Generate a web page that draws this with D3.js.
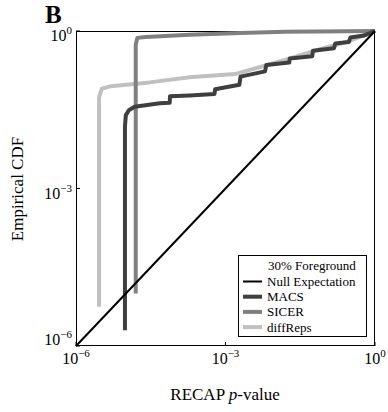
<!DOCTYPE html>
<html><head><meta charset="utf-8">
<script src="https://cdn.jsdelivr.net/npm/d3@7"></script>
<style>body{margin:0;background:#fff}svg{display:block}</style>
</head><body><svg id="c" width="388" height="412" font-family="'Liberation Serif', 'DejaVu Serif', serif"></svg>
<script>
const tickValues = [1e-6, 1e-3, 1];
const tickExponents = ["−6", "−3", "0"];
const seriesNames = ["Null Expectation", "MACS", "SICER", "diffReps"];
const legendTitle = "30% Foreground";
const nullX = [1e-6, 1];
const nullY = [1e-6, 1];
const macsX = [9.6e-6, 9.6e-6, 1.0e-5, 1.15e-5, 1.5e-5, 4.8e-5, 7.6e-5, 7.7e-5, 1.9e-4, 6.0e-4, 6.2e-4, 1.9e-3, 2.0e-3, 6.2e-3, 6.6e-3, 0.019, 0.0195, 0.055, 0.057, 0.15, 0.16, 0.3, 0.32, 0.6, 1];
const macsY = [2.0e-6, 0.015, 0.025, 0.031, 0.036, 0.042, 0.043, 0.057, 0.059, 0.063, 0.078, 0.095, 0.135, 0.17, 0.225, 0.25, 0.30, 0.33, 0.42, 0.47, 0.58, 0.62, 0.75, 0.82, 1];
const sicerX = [1.58e-5, 1.58e-5, 1.7e-5, 2.5e-5, 1.9e-4, 2e-3, 0.0155, 0.3, 1];
const sicerY = [1.0e-5, 0.55, 0.74, 0.77, 0.85, 0.92, 0.97, 0.99, 1];
const diffX = [2.9e-6, 2.9e-6, 3.3e-6, 5e-6, 3e-5, 1.9e-4, 1.55e-3, 0.0155, 0.079, 0.31, 1];
const diffY = [5.6e-6, 0.055, 0.08, 0.089, 0.105, 0.131, 0.151, 0.28, 0.45, 0.645, 1];

const FONT = "'Liberation Serif', 'DejaVu Serif', serif";
const svg = d3.select("#c");
const L = 76, R = 375, T = 31, B = 346;
const x = d3.scaleLog().domain([1e-6, 1]).range([L, R]);
const y = d3.scaleLog().domain([1e-6, 1]).range([B, T]);

const series = [
  {name: seriesNames[0], xs: nullX, ys: nullY, color: "#000", w: 2},
  {name: seriesNames[1], xs: macsX, ys: macsY, color: "#3f3f3f", w: 4},
  {name: seriesNames[2], xs: sicerX, ys: sicerY, color: "#808080", w: 4},
  {name: seriesNames[3], xs: diffX, ys: diffY, color: "#c0c0c0", w: 4}
];

svg.append("rect").attr("x", L + 0.5).attr("y", T + 0.5).attr("width", R - L - 1).attr("height", B - T - 1)
  .attr("fill", "none").attr("stroke", "#000").attr("stroke-width", 1);

tickValues.forEach(v => {
  svg.append("line").attr("x1", x(v)).attr("x2", x(v)).attr("y1", B).attr("y2", B - 4).attr("stroke", "#000");
  svg.append("line").attr("x1", L).attr("x2", L + 4).attr("y1", y(v)).attr("y2", y(v)).attr("stroke", "#000");
});

const line = d3.line().x(d => x(d[0])).y(d => y(d[1])).curve(d3.curveLinear);
[series[3], series[2], series[1], series[0]].forEach(s => {
  svg.append("path").datum(s.xs.map((v, i) => [v, s.ys[i]]))
    .attr("d", line).attr("fill", "none").attr("stroke", s.color)
    .attr("stroke-width", s.w).attr("stroke-linejoin", "round").attr("stroke-linecap", "butt");
});

function txt(g) { return g.append("text").attr("font-family", FONT).attr("fill", "#000"); }
function tickLabel(g, tx, ty, exp, anchor) {
  const t = txt(g).attr("x", tx).attr("y", ty).attr("text-anchor", anchor).attr("font-size", 16);
  t.append("tspan").text("10");
  t.append("tspan").attr("dy", -7).attr("font-size", 11).text(exp);
}
tickValues.forEach((v, i) => {
  tickLabel(svg, x(v), 364, tickExponents[i], "middle");
  const yy = y(v) + (i === 0 ? -1 : 10);
  tickLabel(svg, 72, yy, tickExponents[i], "end");
});

const xt = txt(svg).attr("x", 225).attr("y", 400).attr("text-anchor", "middle").attr("font-size", 17);
xt.append("tspan").text("RECAP ");
xt.append("tspan").attr("font-style", "italic").text("p");
xt.append("tspan").text("-value");
txt(svg).attr("transform", "translate(23,189) rotate(-90)").attr("text-anchor", "middle")
  .attr("font-size", 17).text("Empirical CDF");

txt(svg).attr("x", 45).attr("y", 23).attr("font-size", 25).attr("font-weight", "bold").text("B");

const lg = svg.append("g");
lg.append("rect").attr("x", 238.5).attr("y", 255.5).attr("width", 128).attr("height", 81)
  .attr("fill", "#fff").attr("stroke", "#000").attr("stroke-width", 1);
txt(lg).attr("x", 268).attr("y", 270).attr("font-size", 13).text(legendTitle);
series.forEach((s, i) => {
  const cy = 281.5 + i * 15.2;
  lg.append("line").attr("x1", 243).attr("x2", 262).attr("y1", cy).attr("y2", cy)
    .attr("stroke", s.color).attr("stroke-width", s.w);
  txt(lg).attr("x", 267).attr("y", cy + 4.5).attr("font-size", 13).text(s.name);
});
</script></body></html>
